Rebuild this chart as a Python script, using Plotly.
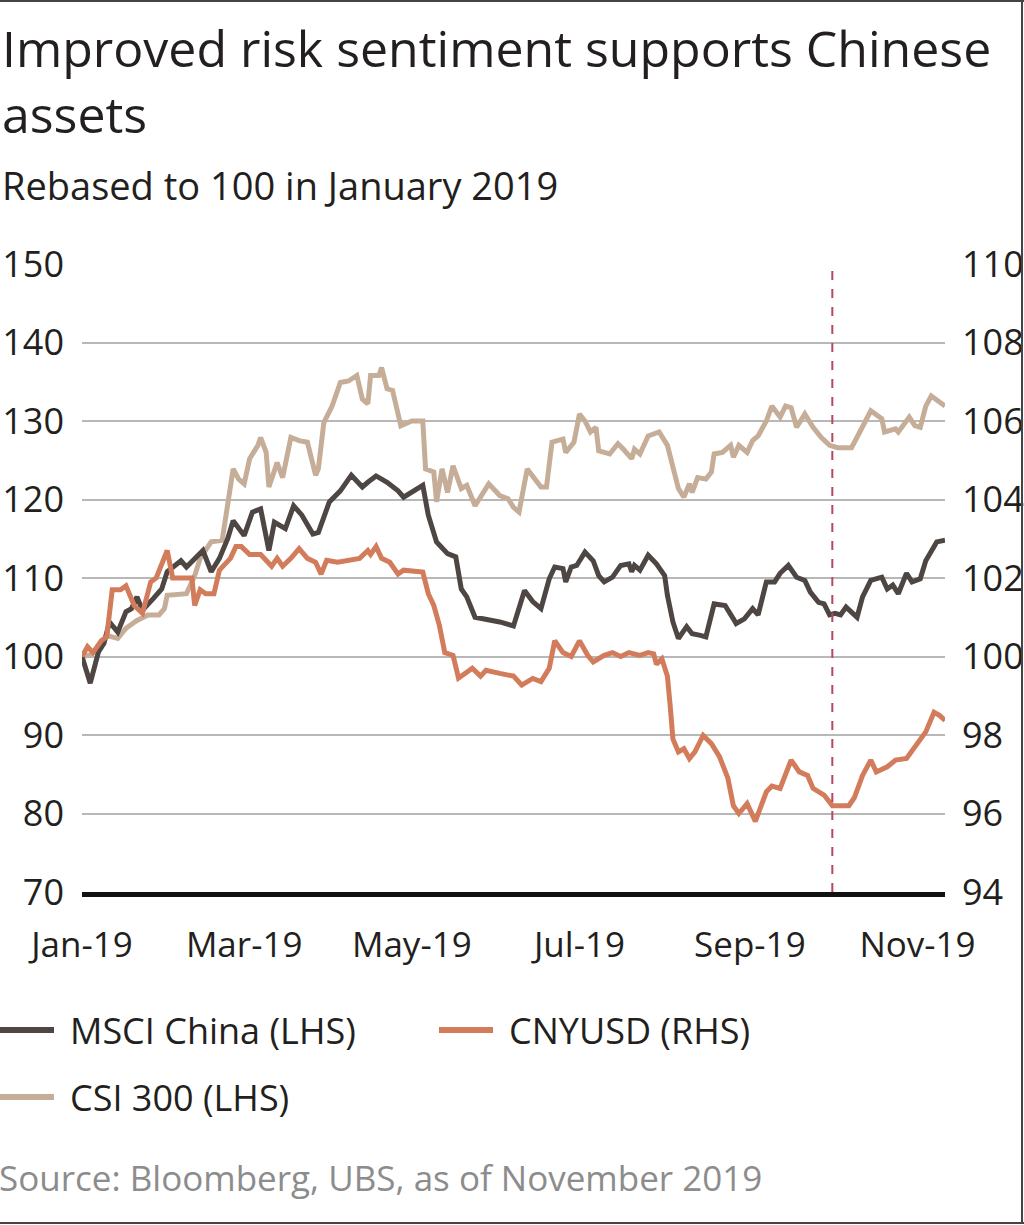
import plotly.graph_objects as go

# MSCI China, rebased (LHS)
msci_dates = [
    "2019-01-01", "2019-01-04", "2019-01-07", "2019-01-09", "2019-01-11", "2019-01-14", "2019-01-17",
    "2019-01-19", "2019-01-21", "2019-01-23", "2019-01-27", "2019-01-30", "2019-02-01", "2019-02-06",
    "2019-02-08", "2019-02-10", "2019-02-14", "2019-02-17", "2019-02-20", "2019-02-23", "2019-02-25",
    "2019-03-01", "2019-03-04", "2019-03-07", "2019-03-10", "2019-03-12", "2019-03-16", "2019-03-19",
    "2019-03-22", "2019-03-26", "2019-03-28", "2019-04-01", "2019-04-05", "2019-04-09", "2019-04-13",
    "2019-04-15", "2019-04-18", "2019-04-22", "2019-04-26", "2019-04-28", "2019-05-01", "2019-05-05",
    "2019-05-07", "2019-05-10", "2019-05-14", "2019-05-17", "2019-05-19", "2019-05-21", "2019-05-24",
    "2019-05-28", "2019-06-02", "2019-06-07", "2019-06-11", "2019-06-14", "2019-06-17", "2019-06-20",
    "2019-06-22", "2019-06-25", "2019-06-26", "2019-06-28", "2019-06-30", "2019-07-03", "2019-07-06",
    "2019-07-08", "2019-07-10", "2019-07-13", "2019-07-16", "2019-07-19", "2019-07-20", "2019-07-21",
    "2019-07-23", "2019-07-26", "2019-07-29", "2019-08-01", "2019-08-02", "2019-08-04", "2019-08-06",
    "2019-08-09", "2019-08-11", "2019-08-14", "2019-08-16", "2019-08-19", "2019-08-23", "2019-08-26",
    "2019-08-27", "2019-08-30", "2019-09-02", "2019-09-04", "2019-09-07", "2019-09-10", "2019-09-12",
    "2019-09-15", "2019-09-18", "2019-09-21", "2019-09-23", "2019-09-26", "2019-09-28", "2019-09-30",
    "2019-10-02", "2019-10-04", "2019-10-06", "2019-10-10", "2019-10-12", "2019-10-15", "2019-10-19",
    "2019-10-21", "2019-10-23", "2019-10-25", "2019-10-28", "2019-10-30", "2019-11-02", "2019-11-04",
    "2019-11-06", "2019-11-08", "2019-11-11",
]
msci_values = [
    100.0, 96.6, 100.6, 101.7, 104.4, 103.1, 105.7,
    106.1, 107.6, 105.9, 107.4, 108.6, 110.8, 112.2,
    111.4, 112.1, 113.5, 110.8, 112.5, 115.0, 117.3,
    115.4, 118.4, 118.8, 113.5, 117.1, 116.3, 119.2,
    118.0, 115.6, 115.8, 119.7, 121.1, 123.1, 121.6,
    122.2, 123.0, 122.2, 121.1, 120.3, 120.9, 121.8,
    118.0, 114.6, 113.1, 112.7, 108.6, 107.6, 105.0,
    104.8, 104.4, 103.9, 108.4, 107.0, 106.1, 109.9,
    111.4, 111.2, 109.5, 111.4, 111.6, 113.3, 112.2,
    110.3, 109.5, 110.1, 111.6, 111.8, 110.8, 111.6,
    111.0, 112.9, 111.8, 110.3, 107.8, 104.4, 102.3,
    103.8, 102.9, 102.7, 102.5, 106.7, 106.5, 104.8,
    104.2, 104.8, 106.1, 105.3, 109.5, 109.5, 110.6,
    111.6, 110.1, 109.7, 108.2, 106.9, 106.7, 105.3,
    105.5, 105.3, 106.3, 105.0, 107.6, 109.7, 110.1,
    108.6, 109.1, 108.0, 110.6, 109.5, 109.9, 112.2,
    113.5, 114.6, 114.8,
]

# CSI 300, rebased (LHS)
csi_dates = [
    "2019-01-01", "2019-01-04", "2019-01-07", "2019-01-10", "2019-01-14", "2019-01-17", "2019-01-21",
    "2019-01-25", "2019-01-29", "2019-01-31", "2019-02-01", "2019-02-08", "2019-02-11", "2019-02-13",
    "2019-02-17", "2019-02-21", "2019-02-25", "2019-02-27", "2019-03-01", "2019-03-03", "2019-03-06",
    "2019-03-07", "2019-03-09", "2019-03-10", "2019-03-13", "2019-03-15", "2019-03-18", "2019-03-21",
    "2019-03-24", "2019-03-27", "2019-03-28", "2019-03-30", "2019-04-02", "2019-04-05", "2019-04-08",
    "2019-04-11", "2019-04-13", "2019-04-15", "2019-04-16", "2019-04-19", "2019-04-20", "2019-04-22",
    "2019-04-24", "2019-04-27", "2019-05-01", "2019-05-05", "2019-05-06", "2019-05-09", "2019-05-10",
    "2019-05-12", "2019-05-14", "2019-05-16", "2019-05-19", "2019-05-21", "2019-05-24", "2019-05-29",
    "2019-06-02", "2019-06-05", "2019-06-07", "2019-06-09", "2019-06-12", "2019-06-15", "2019-06-17",
    "2019-06-19", "2019-06-21", "2019-06-25", "2019-06-26", "2019-06-29", "2019-07-01", "2019-07-03",
    "2019-07-05", "2019-07-07", "2019-07-08", "2019-07-12", "2019-07-15", "2019-07-17", "2019-07-20",
    "2019-07-21", "2019-07-23", "2019-07-26", "2019-07-30", "2019-08-02", "2019-08-04", "2019-08-06",
    "2019-08-08", "2019-08-10", "2019-08-11", "2019-08-13", "2019-08-16", "2019-08-18", "2019-08-19",
    "2019-08-22", "2019-08-25", "2019-08-26", "2019-08-28", "2019-08-31", "2019-09-02", "2019-09-04",
    "2019-09-07", "2019-09-09", "2019-09-12", "2019-09-14", "2019-09-16", "2019-09-18", "2019-09-21",
    "2019-09-24", "2019-09-27", "2019-09-30", "2019-10-03", "2019-10-08", "2019-10-11", "2019-10-15",
    "2019-10-19", "2019-10-20", "2019-10-24", "2019-10-25", "2019-10-29", "2019-10-31", "2019-11-02",
    "2019-11-04", "2019-11-06", "2019-11-08", "2019-11-11",
]
csi_values = [
    100.0, 100.2, 101.0, 102.7, 102.3, 103.6, 104.6,
    105.3, 105.3, 106.1, 107.8, 108.0, 110.3, 112.5,
    114.6, 114.8, 123.9, 122.6, 122.0, 125.2, 126.9,
    127.9, 126.0, 121.6, 124.7, 122.8, 127.9, 127.5,
    127.3, 123.1, 123.9, 129.8, 131.9, 134.9, 135.1,
    135.8, 132.8, 132.2, 135.8, 135.8, 136.8, 134.1,
    133.9, 129.4, 130.0, 130.0, 123.9, 123.5, 119.7,
    123.9, 120.9, 124.3, 121.4, 121.8, 119.2, 122.0,
    120.5, 120.1, 119.0, 118.4, 123.9, 122.6, 121.6,
    121.6, 127.3, 127.7, 126.0, 127.3, 130.9, 130.0,
    128.6, 129.2, 126.2, 125.8, 127.1, 126.4, 125.2,
    126.4, 125.8, 128.1, 128.6, 126.9, 124.3, 121.4,
    120.3, 122.0, 120.9, 122.8, 122.6, 123.5, 125.8,
    126.0, 126.9, 125.4, 126.9, 126.0, 127.5, 128.1,
    130.0, 131.9, 130.5, 131.9, 131.7, 129.2, 130.9,
    129.2, 127.9, 126.9, 126.6, 126.6, 128.6, 131.3,
    130.3, 128.6, 129.0, 128.6, 130.5, 129.4, 129.2,
    131.9, 133.2, 132.6, 131.9,
]

# CNYUSD, rebased (RHS)
cny_dates = [
    "2019-01-01", "2019-01-03", "2019-01-05", "2019-01-08", "2019-01-10", "2019-01-12", "2019-01-15",
    "2019-01-17", "2019-01-20", "2019-01-23", "2019-01-26", "2019-01-28", "2019-02-01", "2019-02-03",
    "2019-02-10", "2019-02-11", "2019-02-13", "2019-02-15", "2019-02-18", "2019-02-20", "2019-02-24",
    "2019-02-26", "2019-02-28", "2019-03-03", "2019-03-07", "2019-03-11", "2019-03-13", "2019-03-15",
    "2019-03-18", "2019-03-21", "2019-03-24", "2019-03-27", "2019-03-29", "2019-03-31", "2019-04-04",
    "2019-04-08", "2019-04-12", "2019-04-15", "2019-04-16", "2019-04-18", "2019-04-20", "2019-04-23",
    "2019-04-26", "2019-04-28", "2019-05-05", "2019-05-07", "2019-05-09", "2019-05-11", "2019-05-13",
    "2019-05-16", "2019-05-18", "2019-05-21", "2019-05-23", "2019-05-26", "2019-05-28", "2019-06-02",
    "2019-06-07", "2019-06-10", "2019-06-14", "2019-06-17", "2019-06-20", "2019-06-22", "2019-06-25",
    "2019-06-28", "2019-07-01", "2019-07-04", "2019-07-06", "2019-07-10", "2019-07-13", "2019-07-16",
    "2019-07-19", "2019-07-23", "2019-07-26", "2019-07-28", "2019-07-29", "2019-07-31", "2019-08-02",
    "2019-08-03", "2019-08-04", "2019-08-06", "2019-08-08", "2019-08-10", "2019-08-12", "2019-08-15",
    "2019-08-18", "2019-08-21", "2019-08-24", "2019-08-26", "2019-08-28", "2019-08-31", "2019-09-03",
    "2019-09-07", "2019-09-09", "2019-09-12", "2019-09-16", "2019-09-19", "2019-09-22", "2019-09-24",
    "2019-09-28", "2019-10-01", "2019-10-07", "2019-10-09", "2019-10-12", "2019-10-15", "2019-10-17",
    "2019-10-21", "2019-10-24", "2019-10-28", "2019-11-02", "2019-11-04", "2019-11-07", "2019-11-09",
    "2019-11-11",
]
cny_values = [
    100.0, 100.25, 100.1, 100.4, 100.5, 101.7, 101.7,
    101.8, 101.3, 101.1, 101.9, 102.0, 102.7, 102.0,
    102.0, 101.3, 101.7, 101.6, 101.6, 102.2, 102.5,
    102.8, 102.8, 102.6, 102.6, 102.3, 102.5, 102.3,
    102.5, 102.75, 102.5, 102.4, 102.1, 102.45, 102.4,
    102.45, 102.5, 102.7, 102.6, 102.8, 102.5, 102.4,
    102.1, 102.2, 102.15, 101.6, 101.3, 100.8, 100.1,
    100.03, 99.45, 99.6, 99.7, 99.5, 99.65, 99.57,
    99.5, 99.27, 99.44, 99.36, 99.7, 100.4, 100.1,
    100.0, 100.4, 100.03, 99.86, 100.03, 100.1, 100.0,
    100.1, 100.03, 100.1, 100.07, 99.8, 99.94, 99.5,
    98.75, 97.9, 97.57, 97.65, 97.4, 97.57, 97.99,
    97.78, 97.44, 96.9, 96.2, 96.0, 96.25, 95.8,
    96.55, 96.7, 96.64, 97.36, 97.06, 96.97, 96.64,
    96.47, 96.2, 96.2, 96.4, 96.97, 97.36, 97.06,
    97.19, 97.36, 97.4, 97.86, 98.08, 98.58, 98.5,
    98.37,
]

event_date = "2019-10-01"

FONT = "Open Sans"
TXT = "#231f20"
W, H = 1024, 1225
L, R, T, B = 82, 79, 264, 333
PW, PH = W - L - R, H - T - B


def px(x):
    return (x - L) / PW


def py(y):
    return (H - B - y) / PH


fig = go.Figure()

fig.add_trace(go.Scatter(x=csi_dates, y=csi_values, mode="lines", name="CSI 300 (LHS)",
                         line=dict(color="#c6ad98", width=5)))
fig.add_trace(go.Scatter(x=msci_dates, y=msci_values, mode="lines", name="MSCI China (LHS)",
                         line=dict(color="#4e4643", width=5)))
fig.add_trace(go.Scatter(x=cny_dates, y=cny_values, mode="lines", name="CNYUSD (RHS)",
                         line=dict(color="#d27c5c", width=5), yaxis="y2"))

fig.add_shape(type="line", xref="x", yref="y", x0=event_date, x1=event_date, y0=70, y1=150,
              line=dict(color="#b24a5c", width=2, dash="dash"))

# title block
fig.add_annotation(text="Improved risk sentiment supports Chinese", x=px(0), y=py(48),
                   font=dict(size=50, color=TXT))
fig.add_annotation(text="assets", x=px(0), y=py(114), font=dict(size=50, color=TXT))
fig.add_annotation(text="Rebased to 100 in January 2019", x=px(0), y=py(185),
                   font=dict(size=38, color=TXT))

# legend drawn by hand
legend = [
    ("MSCI China (LHS)", "#4e4643", 0, 1030),
    ("CNYUSD (RHS)", "#d27c5c", 439, 1030),
    ("CSI 300 (LHS)", "#c6ad98", 0, 1097),
]
for name, col, lx, ly in legend:
    fig.add_shape(type="line", xref="paper", yref="paper", x0=px(lx), x1=px(lx + 54),
                  y0=py(ly), y1=py(ly), line=dict(color=col, width=6))
    fig.add_annotation(text=name, x=px(lx + 68), y=py(ly), font=dict(size=36, color=TXT))

fig.add_annotation(text="Source: Bloomberg, UBS, as of November 2019", x=px(-3), y=py(1177),
                   font=dict(size=35, color="#8c8c8c"))

fig.update_annotations(xref="paper", yref="paper", xanchor="left", yanchor="middle",
                       showarrow=False)

# frame around the picture
for x0, y0, x1, y1 in [(0, 1, W, 1), (W - 2, 1, W - 2, H - 2), (0, H - 2, W, H - 2)]:
    fig.add_shape(type="line", xref="paper", yref="paper", x0=px(x0), x1=px(x1),
                  y0=py(y0), y1=py(y1), line=dict(color="#444444", width=2))

fig.update_layout(
    width=W, height=H, autosize=False,
    margin=dict(l=L, r=R, t=T, b=B),
    paper_bgcolor="white", plot_bgcolor="white",
    font=dict(family=FONT, color=TXT),
    showlegend=False,
    xaxis=dict(type="date", range=["2019-01-01", "2019-11-11"], tick0="2019-01-01", dtick="M2",
               tickformat="%b-%y", showgrid=False, zeroline=False, showline=True,
               linecolor="#111111", linewidth=5, ticks="", ticklabelstandoff=18,
               automargin=False, tickfont=dict(size=35, color=TXT)),
    yaxis=dict(range=[70, 150], dtick=10, showgrid=True, gridcolor="#b8b8b8", gridwidth=1.5,
               zeroline=False, ticks="", ticklabelstandoff=17, automargin=False,
               tickfont=dict(size=36, color=TXT)),
    yaxis2=dict(range=[94, 110], dtick=2, overlaying="y", side="right", showgrid=False,
                zeroline=False, ticks="", ticklabelstandoff=16, automargin=False,
                tickfont=dict(size=36, color=TXT)),
)

fig.write_html("out.html", config={"displayModeBar": False},
               post_script="document.body.style.margin='0';document.body.style.overflow='hidden';")
